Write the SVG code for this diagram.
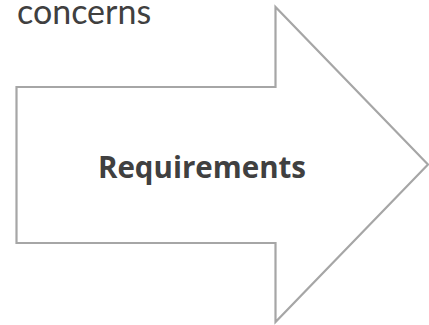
<svg xmlns="http://www.w3.org/2000/svg" width="429" height="325" viewBox="0 0 429 325">
<style>
.arrow{fill:#ffffff;stroke:#a6a6a6;stroke-width:2.2;stroke-linejoin:miter}
.lbl{fill:#404040}
</style>
<rect width="429" height="325" fill="#ffffff"/>
<g id="concerns">
<text class="lbl" x="17" y="24" font-size="34" font-family="Lato, 'Open Sans', 'Liberation Sans', sans-serif">concerns</text>
</g>
<g id="requirements">
<polygon class="arrow" points="16.5,87 275.5,87 275.5,7 428,164.5 275.5,322 275.5,243 16.5,243"/>
<text class="lbl" x="202" y="178" font-size="29.5" font-weight="bold" text-anchor="middle" font-family="'Open Sans', Lato, 'Liberation Sans', sans-serif">Requirements</text>
</g>
</svg>
